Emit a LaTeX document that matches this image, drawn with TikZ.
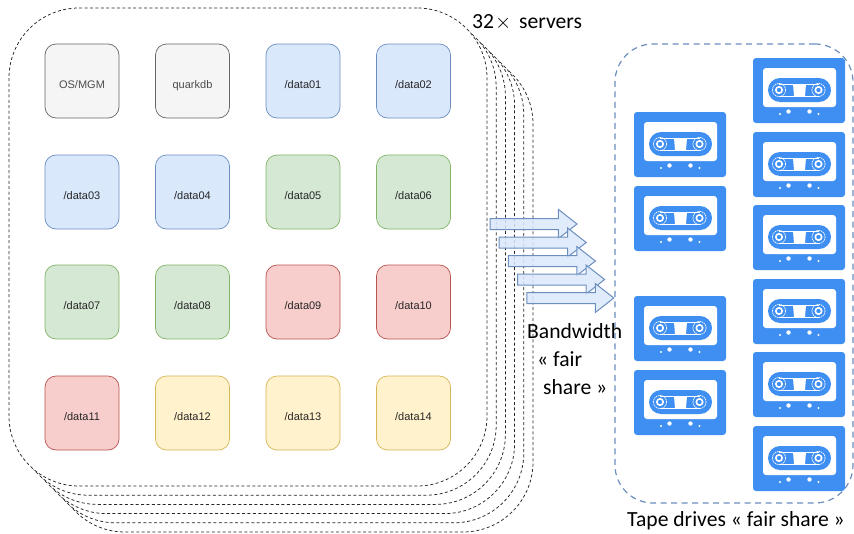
\documentclass[tikz,border=0pt]{standalone}
\usepackage{fontspec}
\setmainfont{Liberation Sans}
\newfontfamily\gillfont{Carlito}
\usetikzlibrary{shapes.arrows}

\definecolor{slotgrayfill}{HTML}{F5F5F5}
\definecolor{slotgrayline}{HTML}{666666}
\definecolor{slotbluefill}{HTML}{DAE8FC}
\definecolor{slotblueline}{HTML}{6C8EBF}
\definecolor{slotgreenfill}{HTML}{D5E8D4}
\definecolor{slotgreenline}{HTML}{82B366}
\definecolor{slotredfill}{HTML}{F8CECC}
\definecolor{slotredline}{HTML}{B85450}
\definecolor{slotyellowfill}{HTML}{FFF2CC}
\definecolor{slotyellowline}{HTML}{D6B656}
\definecolor{tapeblue}{HTML}{3F8FF2}

\begin{document}
\begin{tikzpicture}[
    x=1pt, y=-1pt,
    server/.style={draw=black!85, fill=white, rounded corners=70pt, minimum width=478pt, minimum height=478pt, line width=0.75pt, dash pattern=on 3pt off 2.4pt},
    slot/.style={rectangle, rounded corners=11pt, minimum width=74pt, minimum height=74pt, inner sep=0pt, text height=14pt, text depth=0pt, font=\fontsize{11}{13}\selectfont, line width=0.7pt},
    graybox/.style={slot, draw=slotgrayline, fill=slotgrayfill, text=black!70},
    bluebox/.style={slot, draw=slotblueline, fill=slotbluefill, text=black!85},
    greenbox/.style={slot, draw=slotgreenline, fill=slotgreenfill, text=black!85},
    redbox/.style={slot, draw=slotredline, fill=slotredfill, text=black!85},
    yellowbox/.style={slot, draw=slotyellowline, fill=slotyellowfill, text=black!85},
    flow/.style={single arrow, draw=slotblueline, fill=slotbluefill, fill opacity=0.85, line width=1pt, minimum height=87pt, inner sep=5pt, single arrow head extend=9pt, single arrow tip angle=76},
    caption/.style={font=\gillfont\fontsize{21.6}{26}\selectfont, text=black, inner sep=0pt},
    tape/.pic={
        \fill[tapeblue, rounded corners=3pt] (0,0) rectangle (92,65);
        \fill[white, rounded corners=3pt] (10,10) rectangle (83,49);
        \fill[tapeblue, rounded corners=12pt] (15,20) rectangle (78,44);
        \draw[white, line width=0.3pt] (26,26) -- (66,26) (26,38) -- (66,38);
        \fill[white] (40,26) -- (53,26) -- (52,38) -- (41,38) -- cycle;
        \foreach \reelx in {26,65.5} {
            \draw[white, line width=0.7pt, dash pattern=on 1.5pt off 0.7pt] (\reelx,32) circle (6.6pt);
            \draw[white, line width=1.6pt] (\reelx,32) circle (3.2pt);
        }
        \fill[white] (27,56) circle (1.2pt) (35.5,53.5) circle (2.2pt) (56.5,53.5) circle (2.2pt) (65.5,56) circle (1.2pt);
    }
]
\useasboundingbox (0,0) rectangle (854,533);

% Stack of servers, back one first
\node[server] (srv6) at (294,293) {};
\node[server] (srv5) at (284.8,283.8) {};
\node[server] (srv4) at (275.6,274.6) {};
\node[server] (srv3) at (266.4,265.4) {};
\node[server] (srv2) at (257.2,256.2) {};
\node[server] (srv1) at (248,247) {};

% Disks of the front server
\node[graybox] (mgm) at (82,81) {OS/MGM};
\node[graybox] (qdb) at (192.5,81) {quarkdb};
\node[bluebox] (d01) at (303,81) {/data01};
\node[bluebox] (d02) at (413.5,81) {/data02};

\node[bluebox] (d03) at (82,192) {/data03};
\node[bluebox] (d04) at (192.5,192) {/data04};
\node[greenbox] (d05) at (303,192) {/data05};
\node[greenbox] (d06) at (413.5,192) {/data06};

\node[greenbox] (d07) at (82,302) {/data07};
\node[greenbox] (d08) at (192.5,302) {/data08};
\node[redbox] (d09) at (303,302) {/data09};
\node[redbox] (d10) at (413.5,302) {/data10};

\node[redbox] (d11) at (82,413) {/data11};
\node[yellowbox] (d12) at (192.5,413) {/data12};
\node[yellowbox] (d13) at (303,413) {/data13};
\node[yellowbox] (d14) at (413.5,413) {/data14};

\node[caption, anchor=base west] (count) at (472,28) {32\hspace{1pt}$\times$\hspace{3pt} servers};

% Tape library
\node[draw=slotblueline, rounded corners=38pt, line width=1.2pt, dash pattern=on 6pt off 4.5pt, minimum width=238pt, minimum height=459pt] (library) at (734,273.5) {};

\pic at (634,112) {tape};
\pic at (634,186) {tape};
\pic at (634,296) {tape};
\pic at (634,370) {tape};

\pic at (753,58) {tape};
\pic at (753,132) {tape};
\pic at (753,205) {tape};
\pic at (753,279) {tape};
\pic at (753,352) {tape};
\pic at (753,426) {tape};

% Bandwidth arrows
\node[flow] (flow1) at (530,224) {};
\node[flow] (flow2) at (539.2,242.5) {};
\node[flow] (flow3) at (548.4,261) {};
\node[flow] (flow4) at (557.6,279.5) {};
\node[flow] (flow5) at (566.8,298) {};

\node[caption, align=left, anchor=north west] (band) at (527,323) {Bandwidth\\[2pt]\hspace*{10pt}« fair\\[2pt]\hspace*{16pt}share »};
\node[caption, anchor=base] (drives) at (736,526) {Tape drives « fair share »};

\end{tikzpicture}
\end{document}
